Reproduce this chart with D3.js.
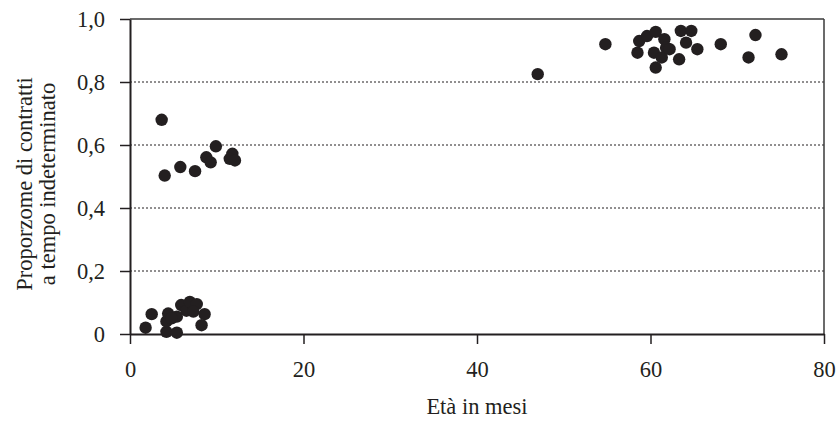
<!DOCTYPE html>
<html>
<head>
<meta charset="utf-8">
<script src="https://cdn.jsdelivr.net/npm/d3@7"></script>
<style>
  body { margin: 0; background: #fff; }
  svg text { font-family: "Liberation Serif", "DejaVu Serif", serif; fill: #231f20; }
</style>
</head>
<body>
<div id="chart"></div>
<script>
// Età in mesi / proporzione di contratti a tempo indeterminato
const etaMesi = [
    1.8, 2.5, 4.2, 5.4, 4.2, 4.4, 5.4, 5.9, 6.5, 6.9, 7.7, 7.3, 8.6, 8.25, 4.8,
    3.65, 4.0, 5.8, 7.5, 8.8, 9.3, 9.9, 11.8, 11.5, 12.1,
    47.0, 54.8, 58.7, 59.6, 60.6, 58.5, 60.4, 61.6, 61.8, 61.3, 60.6, 63.3,
    63.5, 64.7, 64.1, 65.4, 62.2, 68.1, 72.1, 71.3, 75.1
];
const proporzione = [
    0.02, 0.063, 0.007, 0.004, 0.04, 0.065, 0.055, 0.092, 0.074, 0.102, 0.095, 0.071, 0.063, 0.028, 0.05,
    0.68, 0.503, 0.53, 0.517, 0.561, 0.545, 0.596, 0.572, 0.556, 0.551,
    0.825, 0.92, 0.93, 0.946, 0.959, 0.893, 0.893, 0.936, 0.909, 0.878, 0.846, 0.872,
    0.962, 0.962, 0.925, 0.904, 0.904, 0.92, 0.949, 0.878, 0.888
];
const xTicks = [0, 20, 40, 60, 80];
const yTicks = [0, 0.2, 0.4, 0.6, 0.8, 1.0];
const gridTicks = [0.2, 0.4, 0.6, 0.8];

const margin = {top: 19, right: 16, bottom: 87, left: 130};
const width = 840 - margin.left - margin.right;
const height = 421 - margin.top - margin.bottom;

const svg = d3.select("#chart")
    .append("svg")
        .attr("width", 840)
        .attr("height", 421)
    .append("g")
        .attr("transform", `translate(${margin.left}, ${margin.top})`);

const x = d3.scaleLinear().domain([0, 80]).range([0, width]);
const y = d3.scaleLinear().domain([0, 1]).range([height, 0]);

// dotted gridlines
svg.append("g")
    .selectAll("line")
    .data(gridTicks)
    .enter().append("line")
        .attr("x1", 0)
        .attr("x2", width)
        .attr("y1", d => y(d))
        .attr("y2", d => y(d))
        .attr("stroke", "#231f20")
        .attr("stroke-width", 1)
        .attr("stroke-dasharray", "2,2");

// frame top / right
svg.append("line")
    .attr("x1", 0).attr("x2", width).attr("y1", 0).attr("y2", 0)
    .attr("stroke", "#3a3a3a").attr("stroke-width", 1.5);
svg.append("line")
    .attr("x1", width).attr("x2", width).attr("y1", 0).attr("y2", height)
    .attr("stroke", "#3a3a3a").attr("stroke-width", 1.5);

const fmt = d => d === 0 ? "0" : d3.format(".1f")(d).replace(".", ",");

const xAxis = svg.append("g")
    .attr("transform", `translate(0, ${height})`)
    .call(d3.axisBottom(x).tickValues(xTicks).tickSize(10).tickPadding(17).tickSizeOuter(0));
const yAxis = svg.append("g")
    .call(d3.axisLeft(y).tickValues(yTicks).tickFormat(fmt).tickSize(10).tickPadding(15).tickSizeOuter(0));

[xAxis, yAxis].forEach(a => {
    a.select(".domain").attr("stroke", "#231f20").attr("stroke-width", 2);
    a.selectAll(".tick line").attr("stroke", "#231f20").attr("stroke-width", 1.5);
    a.selectAll(".tick text").attr("font-size", 22.5).attr("font-family", "Liberation Serif").attr("fill", "#231f20");
});

// points
svg.append("g")
    .selectAll("circle")
    .data(etaMesi.map((d, i) => [d, proporzione[i]]))
    .enter().append("circle")
        .attr("cx", d => x(d[0]))
        .attr("cy", d => y(d[1]))
        .attr("r", 6.2)
        .attr("fill", "#231f20");

// axis titles
svg.append("text")
    .attr("x", width / 2)
    .attr("y", 395)
    .attr("text-anchor", "middle")
    .attr("font-size", 22.5)
    .text("Età in mesi");

const yTitle = svg.append("text")
    .attr("transform", `translate(${-98}, ${165}) rotate(-90)`)
    .attr("text-anchor", "middle")
    .attr("font-size", 22.5);
yTitle.append("tspan").attr("x", 0).attr("dy", 0).text("Proporzome di contratti");
yTitle.append("tspan").attr("x", 0).attr("dy", 23).text("a tempo indeterminato");
</script>
</body>
</html>
